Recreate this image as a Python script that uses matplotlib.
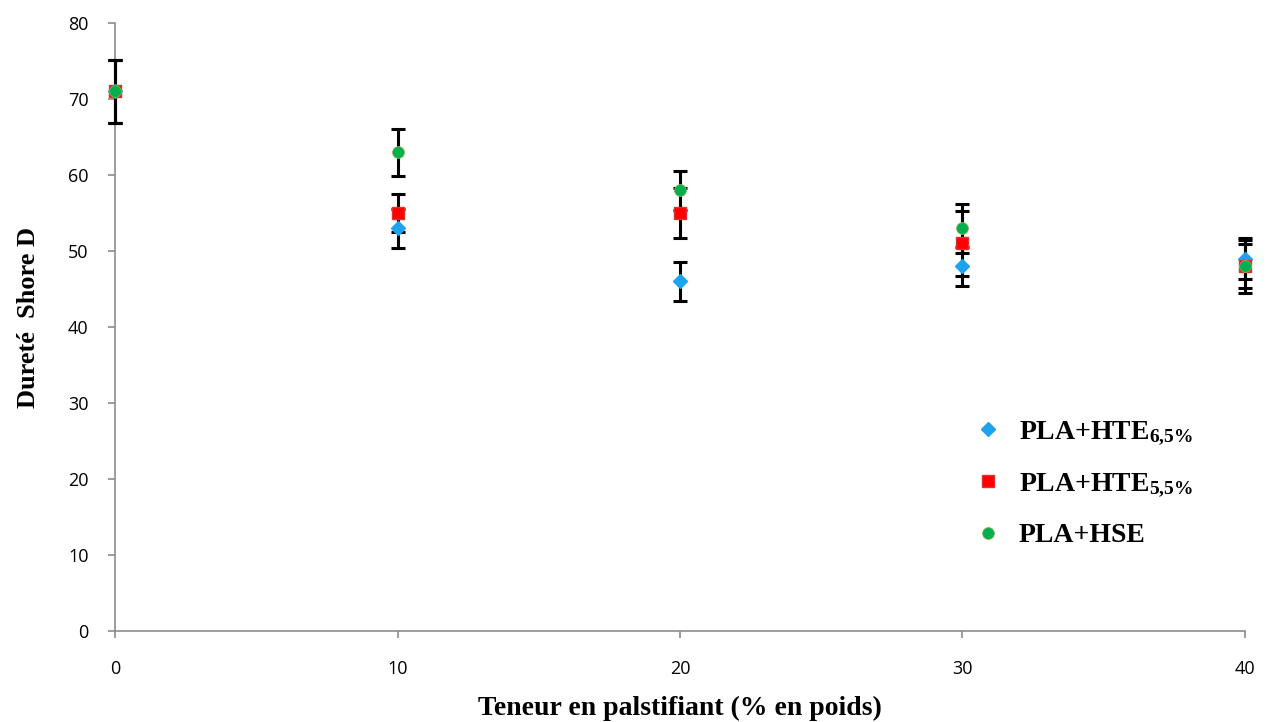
import matplotlib
matplotlib.use("Agg")
import matplotlib.pyplot as plt

plt.rcParams['mathtext.fontset'] = 'custom'
plt.rcParams['mathtext.rm'] = 'Liberation Serif:bold'
plt.rcParams['mathtext.bf'] = 'Liberation Serif:bold'
plt.rcParams['mathtext.it'] = 'Liberation Serif:bold'

x = [0, 10, 20, 30, 40]
hte65 = [71, 53, 46, 48, 49]
hte65_err = [4.2, 2.6, 2.6, 2.6, 2.7]
hte55 = [71, 55, 55, 51, 48]
hte55_err = [4.2, 2.5, 3.3, 4.3, 2.9]
hse = [71, 63, 58, 53, 48]
hse_err = [4.2, 3.1, 2.6, 3.2, 3.5]

labels = [r'PLA+HTE$_{6{,}5\%}$', r'PLA+HTE$_{5{,}5\%}$', 'PLA+HSE']
xticks = [0, 10, 20, 30, 40]
yticks = [0, 10, 20, 30, 40, 50, 60, 70, 80]

fig = plt.figure(figsize=(12.71, 7.22), dpi=100)
ax = fig.add_axes([0.0905, 0.126, 0.889, 0.842])

ekw = dict(fmt='none', ecolor='black', elinewidth=2.2, capsize=5, capthick=2.2, zorder=2)
for yy, ee in [(hte65, hte65_err), (hte55, hte55_err), (hse, hse_err)]:
    eb = ax.errorbar(x, yy, yerr=ee, **ekw)
    for art in list(eb.lines[1]) + list(eb.lines[2]):
        art.set_clip_on(False)

h1, = ax.plot(x, hte65, linestyle='none', marker='D', markersize=7, color='#1CA3EC',
              markeredgecolor='#1CA3EC', zorder=3, clip_on=False)
h2, = ax.plot(x, hte55, linestyle='none', marker='s', markersize=8.5, color='#FF0000',
              markeredgecolor='#E03030', zorder=4, clip_on=False)
h3, = ax.plot(x, hse, linestyle='none', marker='o', markersize=8.5, color='#00B050',
              markeredgecolor='#8DB050', markeredgewidth=0.6, zorder=5, clip_on=False)

ax.set_xlim(0, 40)
ax.set_ylim(0, 80)
ax.set_xticks(xticks)
ax.set_yticks(yticks)
for s in ['top', 'right']:
    ax.spines[s].set_visible(False)
for s in ['left', 'bottom']:
    ax.spines[s].set_color('#8C8C8C')
    ax.spines[s].set_linewidth(1.2)
    ax.spines[s].set_zorder(1)
ax.tick_params(axis='both', direction='out', color='#8C8C8C', length=5, width=1.2,
               labelsize=13)
ax.tick_params(axis='y', pad=14)
ax.tick_params(axis='x', pad=16)
for lab in ax.get_xticklabels() + ax.get_yticklabels():
    lab.set_fontfamily('Open Sans')

ax.set_xlabel('Teneur en palstifiant (% en poids)', fontfamily='Liberation Serif',
              fontweight='bold', fontsize=20, labelpad=13)
ax.set_ylabel('Dureté  Shore D', fontfamily='Liberation Serif',
              fontweight='bold', fontsize=19)
ax.yaxis.set_label_coords(-0.0665, 0.516)

leg = ax.legend([h1, h2, h3], labels, loc='upper left', bbox_to_anchor=(0.7385, 0.39),
                frameon=False, prop={'family': 'Liberation Serif', 'weight': 'bold', 'size': 20},
                handletextpad=0.6, labelspacing=0.86, handlelength=1.0)

fig.savefig('out.png', dpi=100)
